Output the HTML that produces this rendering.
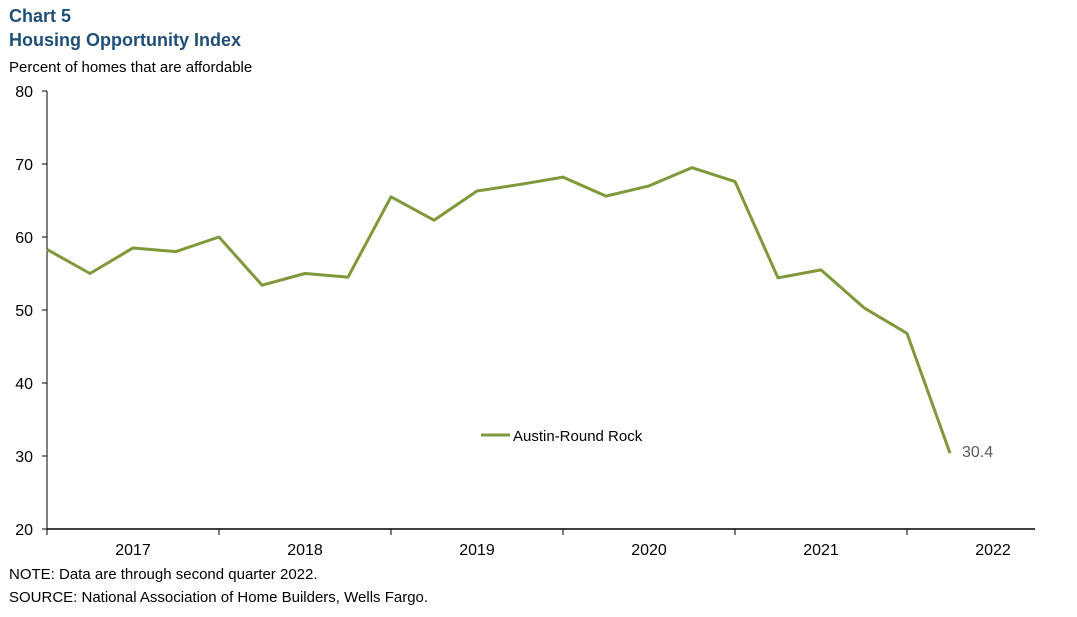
<!DOCTYPE html>
<html><head><meta charset="utf-8"><style>
body{margin:0;background:#fff;width:1077px;height:612px;overflow:hidden;font-family:"Liberation Sans",Arial,sans-serif}
</style></head><body>
<svg width="1077" height="612" xmlns="http://www.w3.org/2000/svg" font-family="Liberation Sans, Arial, sans-serif">
<text x="9" y="22" font-size="18" font-weight="bold" fill="#1f4e79">Chart 5</text>
<text x="9" y="46" font-size="18" font-weight="bold" fill="#1f4e79">Housing Opportunity Index</text>
<text x="9" y="72" font-size="15" fill="#000">Percent of homes that are affordable</text>
<g id="yaxis"></g><g id="xaxis"></g><g id="series"></g>
<g>
<line x1="481" y1="435" x2="510" y2="435" stroke="#7f993a" stroke-width="3"/>
<text x="513" y="441" font-size="15" fill="#000">Austin-Round Rock</text>
</g>
<text x="9" y="579" font-size="15">NOTE:  Data are through second quarter 2022.</text>
<text x="9" y="602" font-size="15">SOURCE:  National Association of Home Builders, Wells Fargo.</text>
</svg>
<script>
const yTicks=[20,30,40,50,60,70,80];
const years=["2017","2018","2019","2020","2021","2022"];
const values=[58.3,55,58.5,58,60,53.4,55,54.5,65.5,62.3,66.3,67.2,68.2,65.6,67,69.5,67.6,54.4,55.5,50.3,46.8,30.4];
const NS="http://www.w3.org/2000/svg";
const x0=47,q=43,xEnd=1035;
const y=v=>529-(v-20)*7.3;
const x=i=>x0+i*q;
function mk(t,a,p){const e=document.createElementNS(NS,t);for(const k in a)e.setAttribute(k,a[k]);p.appendChild(e);return e;}
const ya=document.getElementById('yaxis'),xa=document.getElementById('xaxis'),se=document.getElementById('series');
mk('line',{x1:x0,y1:y(80),x2:x0,y2:y(20),stroke:'#000','stroke-width':1},ya);
yTicks.forEach(v=>{
 mk('line',{x1:x0-5,y1:y(v),x2:x0,y2:y(v),stroke:'#000'},ya);
 const t=mk('text',{x:x0-14,y:y(v)+6,'font-size':16,'text-anchor':'end'},ya);
 
 
 t.textContent=v;
});
mk('line',{x1:x0,y1:y(20),x2:xEnd,y2:y(20),stroke:'#000','stroke-width':1.5},xa);
years.forEach((yr,i)=>{
 const xs=x0+i*4*q;
 mk('line',{x1:xs,y1:y(20),x2:xs,y2:y(20)+6,stroke:'#000'},xa);
 const t=mk('text',{x:xs+2*q,y:555,'font-size':16,'text-anchor':'middle'},xa);
 
 
 t.textContent=yr;
});
const p=mk('polyline',{points:values.map((v,i)=>x(i)+','+y(v)).join(' '),fill:'none',stroke:'#7f993a','stroke-width':3,'stroke-linejoin':'round'},se);


const last=values.length-1;
const lb=mk('text',{x:x(last)+12,y:y(values[last])+4,'font-size':16,fill:'#595959'},se);


lb.textContent=values[last];
</script>
</body></html>
